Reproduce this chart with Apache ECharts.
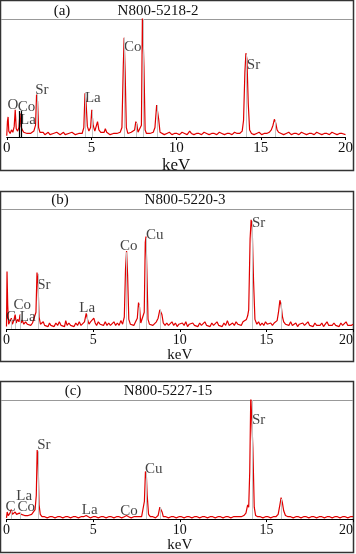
<!DOCTYPE html>
<html>
<head>
<meta charset="utf-8">
<script src="https://cdn.jsdelivr.net/npm/echarts@6/dist/echarts.min.js"></script>
<style>
  html, body { margin: 0; padding: 0; background: #fff; }
  #eChart { width: 356px; height: 554px; }
</style>
</head>
<body>
<div id="eChart"></div>
<script>
// EDS spectra, intensity in % of each panel's plot height, [keV, value]
const panelTags = ['(a)', '(b)', '(c)']
const panelNames = ['N800-5218-2', 'N800-5220-3', 'N800-5227-15']
const xTicks = [0, 5, 10, 15, 20]

const spectrumA = [
  [0, 1], [0.04, 13], [0.08, 17], [0.12, 5], [0.2, 3], [0.28, 6], [0.36, 4], [0.44, 9], [0.5, 23], [0.56, 7],
  [0.64, 5], [0.72, 8], [0.78, 20], [0.84, 9], [0.92, 6], [1.0, 4], [1.1, 5], [1.2, 3], [1.3, 4], [1.4, 3],
  [1.5, 4], [1.6, 5], [1.7, 10], [1.76, 36], [1.82, 30], [1.88, 8], [1.96, 4], [2.05, 3], [2.15, 4], [2.25, 2],
  [2.35, 3], [2.45, 4], [2.55, 2], [2.65, 3], [2.75, 3], [2.85, 2], [2.95, 4], [3.05, 3], [3.15, 2], [3.25, 3],
  [3.35, 4], [3.45, 2], [3.55, 3], [3.65, 3], [3.75, 2], [3.85, 4], [3.95, 3], [4.05, 2], [4.15, 3], [4.25, 3],
  [4.35, 2], [4.45, 3], [4.55, 8], [4.62, 37], [4.68, 30], [4.76, 9], [4.85, 5], [4.95, 8], [5.02, 23], [5.1, 10],
  [5.2, 5], [5.3, 6], [5.36, 13], [5.44, 6], [5.55, 4], [5.65, 3], [5.75, 4], [5.82, 7], [5.9, 4], [6.0, 3],
  [6.1, 2], [6.2, 3], [6.3, 3], [6.4, 2], [6.5, 3], [6.6, 3], [6.7, 4], [6.8, 8], [6.88, 60], [6.93, 84],
  [6.99, 55], [7.06, 8], [7.15, 3], [7.25, 3], [7.35, 4], [7.45, 3], [7.55, 6], [7.62, 13], [7.68, 11], [7.75, 4],
  [7.85, 3], [7.95, 10], [8.01, 104], [8.05, 104], [8.1, 60], [8.17, 6], [8.25, 3], [8.35, 3], [8.45, 3], [8.55, 2],
  [8.65, 4], [8.75, 8], [8.85, 27], [8.9, 28], [8.97, 15], [9.05, 4], [9.15, 3], [9.3, 2], [9.45, 3], [9.6, 4],
  [9.75, 2], [9.9, 3], [10.05, 3], [10.2, 2], [10.35, 4], [10.5, 3], [10.65, 2], [10.8, 5], [10.9, 3], [11.05, 2],
  [11.2, 3], [11.35, 3], [11.5, 2], [11.65, 4], [11.8, 3], [11.95, 2], [12.1, 3], [12.25, 3], [12.4, 2], [12.55, 4],
  [12.7, 3], [12.85, 2], [13.0, 3], [13.15, 3], [13.3, 2], [13.45, 4], [13.6, 3], [13.75, 3], [13.9, 5], [13.98, 14],
  [14.06, 55], [14.12, 71], [14.18, 66], [14.26, 28], [14.34, 6], [14.45, 3], [14.6, 2], [14.75, 3], [14.9, 4], [15.05, 2],
  [15.2, 3], [15.35, 3], [15.5, 4], [15.62, 6], [15.72, 10], [15.8, 15], [15.88, 12], [15.96, 6], [16.05, 4], [16.2, 3],
  [16.35, 2], [16.5, 3], [16.65, 4], [16.8, 2], [16.95, 3], [17.1, 3], [17.25, 2], [17.4, 4], [17.55, 3], [17.7, 2],
  [17.85, 3], [18.0, 3], [18.15, 2], [18.3, 4], [18.45, 3], [18.6, 2], [18.75, 3], [18.9, 3], [19.05, 2], [19.2, 4],
  [19.35, 3], [19.5, 2], [19.65, 3], [19.8, 3], [20, 2],
]

const spectrumB = [
  [0, 2], [0.03, 48], [0.07, 20], [0.12, 4], [0.2, 5], [0.28, 9], [0.34, 4], [0.42, 7], [0.5, 12], [0.56, 5],
  [0.64, 8], [0.72, 6], [0.78, 12], [0.84, 5], [0.92, 7], [1.0, 4], [1.1, 6], [1.2, 4], [1.3, 5], [1.4, 3],
  [1.5, 5], [1.6, 4], [1.7, 14], [1.76, 47], [1.82, 38], [1.88, 10], [1.96, 4], [2.05, 3], [2.12, 6], [2.2, 3],
  [2.3, 4], [2.4, 2], [2.48, 5], [2.56, 3], [2.65, 4], [2.75, 2], [2.85, 5], [2.95, 3], [3.05, 6], [3.15, 3],
  [3.25, 4], [3.35, 2], [3.42, 7], [3.5, 3], [3.6, 5], [3.7, 3], [3.8, 4], [3.9, 2], [4.0, 5], [4.1, 3],
  [4.2, 6], [4.3, 3], [4.4, 4], [4.5, 6], [4.6, 13], [4.68, 8], [4.76, 4], [4.85, 6], [4.95, 5], [5.04, 9],
  [5.12, 5], [5.2, 3], [5.3, 6], [5.4, 4], [5.5, 5], [5.6, 3], [5.7, 6], [5.8, 3], [5.9, 5], [6.0, 3],
  [6.1, 4], [6.2, 6], [6.3, 3], [6.4, 5], [6.5, 3], [6.6, 7], [6.7, 4], [6.8, 10], [6.87, 50], [6.93, 65],
  [6.99, 45], [7.06, 8], [7.15, 4], [7.25, 5], [7.35, 3], [7.45, 6], [7.55, 9], [7.62, 22], [7.68, 18], [7.75, 5],
  [7.85, 4], [7.95, 14], [8.01, 72], [8.05, 77], [8.1, 50], [8.17, 8], [8.25, 4], [8.35, 5], [8.45, 3], [8.55, 4],
  [8.65, 6], [8.75, 9], [8.85, 16], [8.9, 17], [8.97, 12], [9.05, 5], [9.15, 3], [9.25, 5], [9.35, 3], [9.45, 4],
  [9.55, 6], [9.65, 3], [9.75, 5], [9.85, 2], [9.95, 4], [10.05, 3], [10.15, 5], [10.25, 3], [10.35, 6], [10.45, 2],
  [10.55, 4], [10.65, 3], [10.75, 5], [10.85, 3], [10.95, 4], [11.05, 2], [11.15, 5], [11.25, 3], [11.35, 4], [11.45, 6],
  [11.55, 3], [11.65, 4], [11.75, 2], [11.85, 5], [11.95, 3], [12.05, 4], [12.15, 6], [12.25, 3], [12.35, 4], [12.45, 2],
  [12.55, 5], [12.65, 3], [12.75, 7], [12.85, 3], [12.95, 4], [13.05, 5], [13.15, 3], [13.25, 6], [13.35, 4], [13.45, 5],
  [13.55, 3], [13.65, 6], [13.75, 5], [13.85, 8], [13.92, 11], [13.98, 16], [14.06, 75], [14.12, 91], [14.18, 85], [14.26, 40],
  [14.34, 8], [14.45, 4], [14.55, 6], [14.65, 3], [14.75, 5], [14.85, 3], [14.95, 6], [15.05, 4], [15.15, 3], [15.25, 5],
  [15.35, 3], [15.45, 5], [15.55, 4], [15.62, 7], [15.7, 14], [15.78, 24], [15.85, 20], [15.93, 10], [16.0, 6], [16.1, 4],
  [16.2, 5], [16.3, 3], [16.4, 6], [16.5, 3], [16.6, 4], [16.7, 5], [16.8, 2], [16.9, 4], [17.0, 3], [17.1, 5],
  [17.2, 3], [17.3, 4], [17.4, 6], [17.5, 3], [17.6, 4], [17.7, 2], [17.8, 5], [17.9, 3], [18.0, 4], [18.1, 3],
  [18.2, 5], [18.3, 2], [18.4, 4], [18.5, 6], [18.6, 3], [18.7, 4], [18.8, 3], [18.9, 5], [19.0, 3], [19.1, 4],
  [19.2, 2], [19.3, 5], [19.4, 3], [19.5, 4], [19.6, 6], [19.7, 3], [19.8, 4], [19.9, 3], [20, 4],
]

const spectrumC = [
  [0, 1], [0.04, 6], [0.1, 3], [0.2, 5], [0.28, 8], [0.34, 4], [0.42, 5], [0.5, 6], [0.58, 4], [0.66, 4],
  [0.74, 5], [0.8, 6], [0.86, 4], [0.95, 4], [1.05, 3], [1.15, 4], [1.25, 3], [1.35, 4], [1.45, 4], [1.55, 5],
  [1.65, 8], [1.72, 20], [1.77, 58], [1.82, 50], [1.88, 12], [1.95, 4], [2.05, 2], [2.2, 2], [2.35, 1], [2.5, 2],
  [2.65, 2], [2.8, 1], [2.95, 2], [3.1, 2], [3.25, 1], [3.4, 2], [3.55, 2], [3.7, 1], [3.85, 2], [4.0, 2],
  [4.15, 1], [4.3, 2], [4.45, 2], [4.6, 3], [4.7, 2], [4.85, 1], [5.0, 2], [5.15, 2], [5.3, 1], [5.45, 2],
  [5.6, 2], [5.75, 1], [5.9, 2], [6.05, 2], [6.2, 1], [6.35, 2], [6.5, 2], [6.65, 1], [6.8, 2], [6.93, 3],
  [7.05, 2], [7.2, 1], [7.35, 2], [7.5, 2], [7.65, 2], [7.8, 2], [7.9, 3], [7.96, 15], [8.02, 40], [8.07, 38],
  [8.12, 20], [8.2, 4], [8.3, 2], [8.45, 2], [8.6, 1], [8.75, 3], [8.85, 10], [8.92, 11], [8.98, 6], [9.05, 2],
  [9.2, 2], [9.35, 1], [9.5, 2], [9.65, 2], [9.8, 1], [9.95, 2], [10.1, 2], [10.25, 1], [10.4, 2], [10.55, 2],
  [10.7, 1], [10.85, 2], [11.0, 2], [11.15, 1], [11.3, 2], [11.45, 2], [11.6, 1], [11.75, 2], [11.9, 2], [12.05, 1],
  [12.2, 2], [12.35, 2], [12.5, 1], [12.65, 2], [12.8, 2], [12.95, 1], [13.1, 2], [13.25, 2], [13.4, 2], [13.55, 2],
  [13.7, 3], [13.82, 5], [13.92, 12], [13.98, 10], [14.04, 40], [14.1, 104], [14.16, 104], [14.22, 60], [14.3, 10], [14.38, 3],
  [14.5, 2], [14.65, 2], [14.8, 1], [14.95, 2], [15.1, 2], [15.25, 1], [15.4, 2], [15.55, 2], [15.68, 4], [15.78, 12],
  [15.85, 18], [15.92, 14], [16.0, 7], [16.1, 3], [16.25, 2], [16.4, 2], [16.55, 1], [16.7, 2], [16.85, 2], [17.0, 1],
  [17.15, 2], [17.3, 2], [17.45, 1], [17.6, 2], [17.75, 2], [17.9, 1], [18.05, 2], [18.2, 2], [18.35, 1], [18.5, 2],
  [18.65, 2], [18.8, 1], [18.95, 2], [19.1, 2], [19.25, 1], [19.4, 2], [19.55, 2], [19.7, 1], [19.85, 2], [20, 2],
]

// element marker lines [keV, height]
const markersA = [[1.81, 36], [4.65, 37], [5.04, 22], [6.93, 84], [7.65, 12], [8.04, 100], [8.9, 27], [14.16, 70], [15.84, 14]]
const darkMarkersA = [[0.76, 22], [0.85, 22]]
const markersB = [[0.28, 8], [0.52, 7], [0.78, 12], [1.81, 46], [4.65, 12], [6.93, 64], [7.65, 20], [8.04, 76], [8.9, 16], [14.16, 90], [15.84, 22]]
const markersC = [[0.28, 7], [0.78, 6], [1.81, 57], [8.04, 40], [8.9, 10], [14.16, 100], [15.84, 17]]

// peak labels [keV, value, element]
const labelsA = [[0.37, 27, 'O'], [1.16, 25, 'Co'], [1.25, 14, 'La'], [2.07, 40, 'Sr'], [5.08, 33, 'La'], [7.44, 76, 'Co'], [14.57, 61, 'Sr']]
const labelsB = [[0.26, 10, 'C'], [0.91, 20, 'Co'], [1.22, 10, 'La'], [2.16, 37, 'Sr'], [4.66, 17.5, 'La'], [7.05, 69, 'Co'], [8.55, 78, 'Cu'], [14.55, 88, 'Sr']]
const labelsC = [[0.23, 10, 'C'], [1.02, 19, 'La'], [1.14, 10, 'Co'], [2.16, 62, 'Sr'], [4.8, 8, 'La'], [7.07, 7, 'Co'], [8.5, 42, 'Cu'], [14.55, 83, 'Sr']]

const spectra = [spectrumA, spectrumB, spectrumC]
const markers = [markersA, markersB, markersC]
const labels = [labelsA, labelsB, labelsC]

const serif = '"Liberation Serif", "DejaVu Serif", serif'
// panel layout: frame top/height, plot top/height, title y, keV gap
const panels = [
  { frameTop: 0.5, frameH: 170, top: 19, height: 118, titleY: 11, nameGap: 17, nameSize: 17, tickSize: 15 },
  { frameTop: 191.5, frameH: 170, top: 209, height: 120, titleY: 200, nameGap: 14, nameSize: 15, tickSize: 14 },
  { frameTop: 381.5, frameH: 171, top: 400, height: 120, titleY: 391, nameGap: 14, nameSize: 15, tickSize: 14 },
]
const tagX = [62, 60, 73]
const nameX = [158, 185, 168]

const eChart = echarts.init(document.getElementById('eChart'), null, { renderer: 'canvas' })

const grid = [], xAxis = [], yAxis = [], series = [], graphic = []

const markLineOf = (list, color, width) => ({
  silent: true, symbol: 'none', animation: false, label: { show: false },
  lineStyle: { color, width, type: 'solid' },
  data: list.map(m => [{ coord: [m[0], 0] }, { coord: [m[0], m[1]] }]),
})

panels.forEach((p, i) => {
  grid.push({ left: 2, width: 352, top: p.top, height: p.height })
  xAxis.push({
    type: 'value', gridIndex: i, min: xTicks[0], max: xTicks[xTicks.length - 1], interval: 5,
    name: 'keV', nameLocation: 'middle', nameGap: p.nameGap,
    nameTextStyle: { fontFamily: serif, fontSize: p.nameSize, color: '#111' },
    axisLine: { lineStyle: { color: '#000', width: 1 } },
    axisTick: { show: true, length: 3, lineStyle: { color: '#000' } },
    axisLabel: { fontFamily: serif, fontSize: p.tickSize, color: '#111', margin: 4, alignMaxLabel: i === 0 ? 'center' : 'right' },
    splitLine: { show: false },
  })
  yAxis.push({ type: 'value', gridIndex: i, min: 0, max: 100, show: false })

  series.push({
    type: 'line', xAxisIndex: i, yAxisIndex: i, data: [], silent: true, z: 1,
    markLine: markLineOf(markers[i], '#c4c4c4', 1),
  })
  if (i === 0) {
    series.push({
      type: 'line', xAxisIndex: i, yAxisIndex: i, data: [], silent: true, z: 1,
      markLine: markLineOf(darkMarkersA, '#000', 1.2),
    })
  }
  series.push({
    type: 'line', xAxisIndex: i, yAxisIndex: i, data: spectra[i], showSymbol: false, z: 3,
    lineStyle: { color: '#e00000', width: 1.2 }, animation: false, clip: true,
  })
  series.push({
    type: 'scatter', xAxisIndex: i, yAxisIndex: i, symbolSize: 0, animation: false, silent: true, z: 4,
    data: labels[i].map(l => ({ value: [l[0], l[1]], name: l[2] })),
    label: { show: true, position: 'inside', formatter: '{b}', fontFamily: serif, fontSize: 15, color: '#111' },
  })

  graphic.push({ type: 'rect', silent: true, shape: { x: 0.5, y: p.frameTop, width: 353, height: p.frameH },
    style: { fill: null, stroke: '#333', lineWidth: 1.5 } })
  graphic.push({ type: 'line', silent: true, shape: { x1: 1, y1: p.top + 0.5, x2: 353, y2: p.top + 0.5 },
    style: { stroke: '#999', lineWidth: 1 } })
  graphic.push({ type: 'text', silent: true, x: tagX[i], y: p.titleY,
    style: { text: panelTags[i], font: '15px ' + serif, fill: '#111', align: 'center', verticalAlign: 'middle' } })
  graphic.push({ type: 'text', silent: true, x: nameX[i], y: p.titleY,
    style: { text: panelNames[i], font: '15px ' + serif, fill: '#111', align: 'center', verticalAlign: 'middle' } })
})

eChart.setOption({ backgroundColor: '#fff', animation: false, grid, xAxis, yAxis, series, graphic })
window.addEventListener('resize', () => eChart && eChart.resize())
</script>
</body>
</html>
